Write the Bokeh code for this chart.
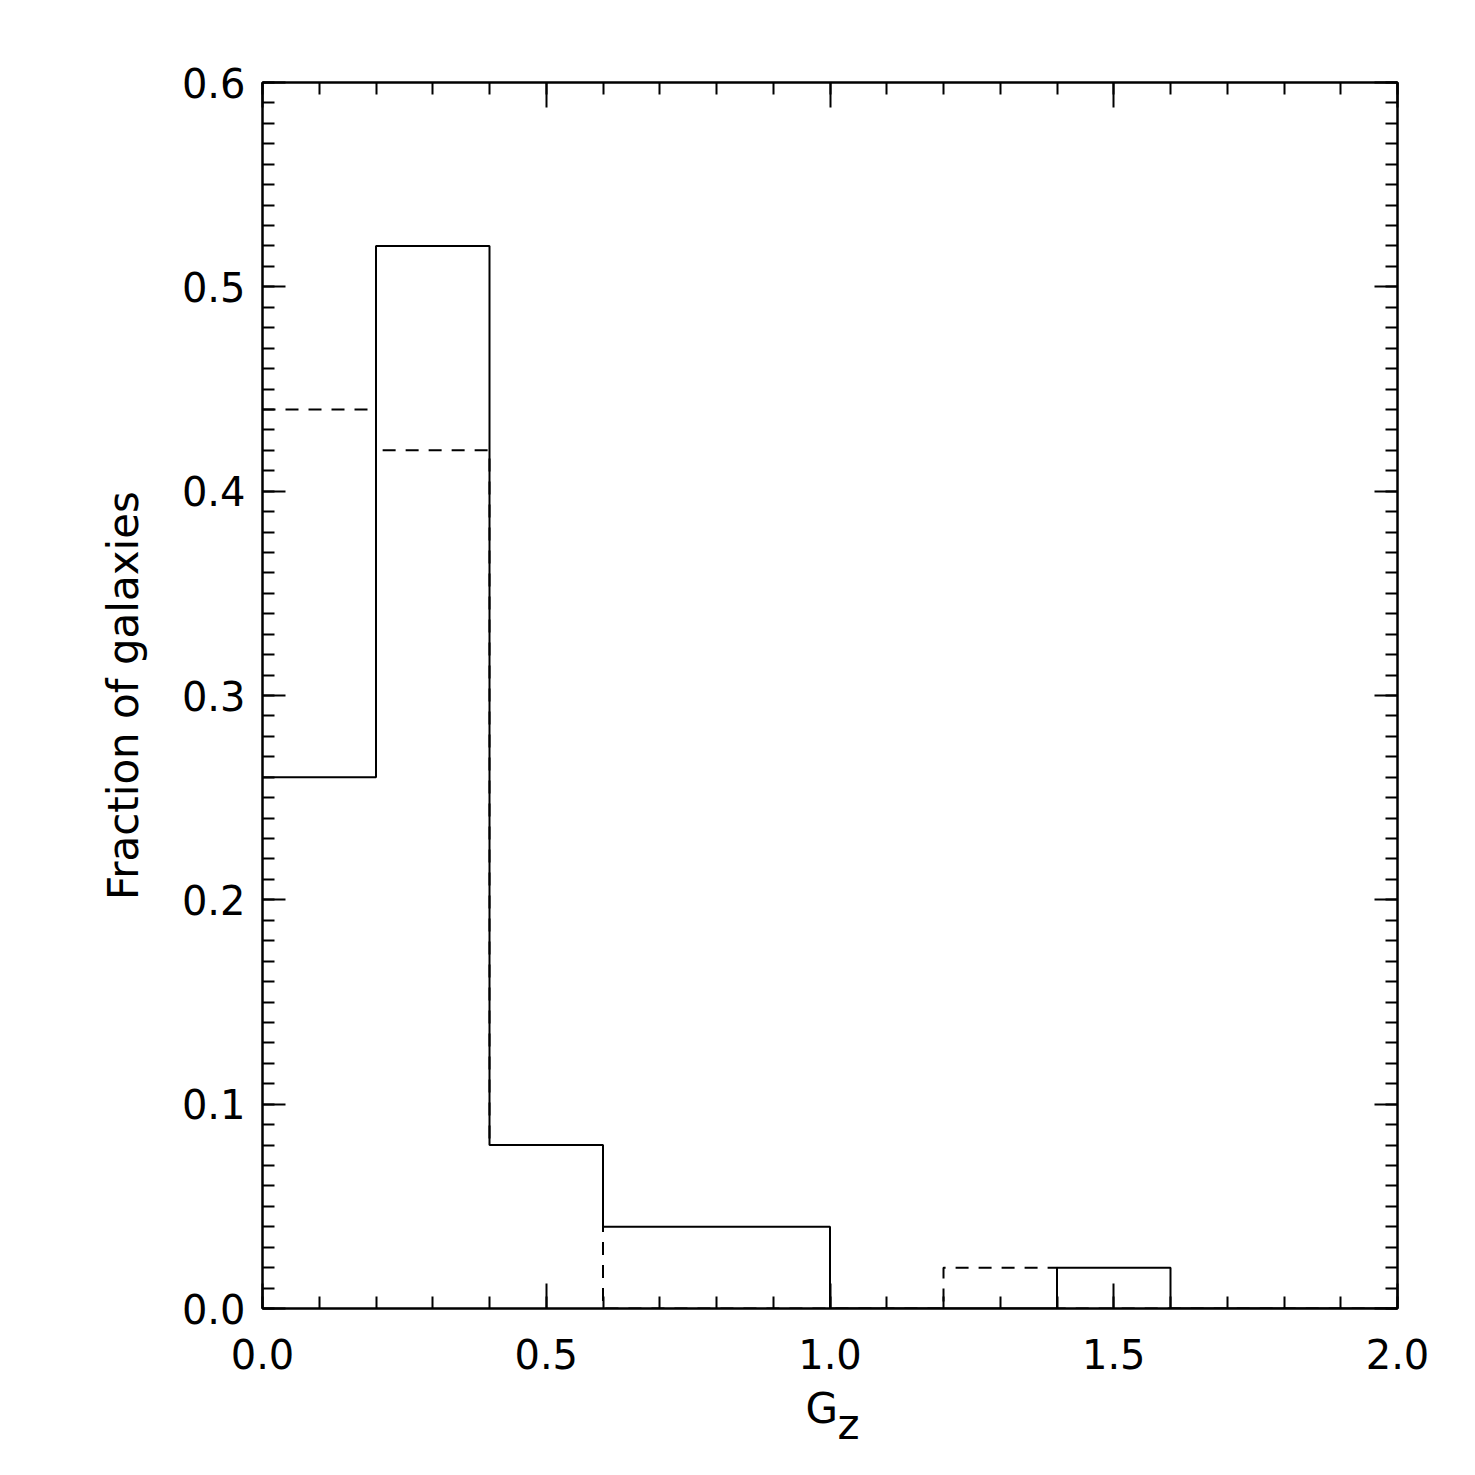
from bokeh.plotting import figure
from bokeh.models import (LinearAxis, SingleIntervalTicker, PrintfTickFormatter,
                          Range1d, Title)
from bokeh.embed import file_html
from bokeh.resources import INLINE

# ---- data ----
bin_edges = [0.0, 0.2, 0.4, 0.6, 0.8, 1.0, 1.2, 1.4, 1.6, 1.8, 2.0]
solid_frac = [0.26, 0.52, 0.08, 0.04, 0.04, 0.0, 0.0, 0.02, 0.0, 0.0]
dashed_frac = [0.44, 0.42, 0.08, 0.0, 0.0, 0.0, 0.02, 0.0, 0.0, 0.0]
x_label_main = "G"
x_label_sub = "z"
y_label = "Fraction of galaxies"

FONT = "DejaVu Sans"
FS = "40px"

p = figure(width=1460, height=1460, output_backend="svg", toolbar_location=None,
           x_range=Range1d(0, 2.0), y_range=Range1d(0, 0.60001),
           x_axis_location=None, y_axis_location=None,
           min_border_left=262, min_border_right=63,
           min_border_top=82, min_border_bottom=152)
p.grid.visible = False
p.outline_line_color = "black"
p.outline_line_width = 2
p.background_fill_color = "white"
p.border_fill_color = "white"


def make_axis(kind, labels):
    if kind == "x":
        ticker = SingleIntervalTicker(interval=0.5, num_minor_ticks=5)
        major_in, minor_in = 25, 12
    else:
        ticker = SingleIntervalTicker(interval=0.1, num_minor_ticks=10)
        major_in, minor_in = 23, 12
    ax = LinearAxis(ticker=ticker, formatter=PrintfTickFormatter(format="%.1f"))
    ax.axis_line_color = "black"
    ax.axis_line_width = 2
    ax.major_tick_line_color = "black"
    ax.major_tick_line_width = 2
    ax.minor_tick_line_color = "black"
    ax.minor_tick_line_width = 2
    ax.major_tick_in = major_in
    ax.major_tick_out = 0
    ax.minor_tick_in = minor_in
    ax.minor_tick_out = 0
    if labels:
        ax.major_label_text_font = FONT
        ax.major_label_text_font_size = FS
        ax.major_label_text_color = "black"
        ax.major_label_standoff = 17 if kind == "y" else 30
    else:
        ax.major_label_text_font_size = "0px"
        ax.major_label_text_alpha = 0
    return ax


xb = make_axis("x", True)
yl = make_axis("y", True)
yl.axis_label = y_label
yl.axis_label_text_font = FONT
yl.axis_label_text_font_size = "42px"
yl.axis_label_text_font_style = "normal"
yl.axis_label_text_color = "black"
yl.axis_label_standoff = 31
xt = make_axis("x", False)
yr = make_axis("y", False)
p.add_layout(xb, "below")
p.add_layout(yl, "left")
p.add_layout(xt, "above")
p.add_layout(yr, "right")

# x-axis label "G" with subscript "z", as two titles under the axis
p.add_layout(Title(text=x_label_main, align="left", offset=543, standoff=-122,
                   text_font=FONT, text_font_size="42px", text_font_style="normal",
                   text_color="black"), "below")
p.add_layout(Title(text=x_label_sub, align="left", offset=575, standoff=-155,
                   text_font=FONT, text_font_size="42px", text_font_style="normal",
                   text_color="black"), "below")

# histogram steps (dashed first so the solid one covers shared segments)
xs = bin_edges
ys_d = dashed_frac + [dashed_frac[-1]]
ys_s = solid_frac + [solid_frac[-1]]
p.step(x=xs, y=ys_d, mode="after", line_color="black", line_width=2, line_dash="13 10")
p.step(x=xs, y=ys_s, mode="after", line_color="black", line_width=2)

open("out.html", "w").write(file_html(p, INLINE))
